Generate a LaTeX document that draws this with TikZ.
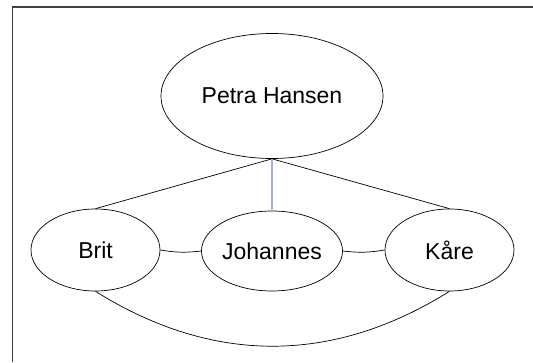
\documentclass[tikz,border=0pt]{standalone}
\usepackage{fontspec}
\setmainfont{Liberation Sans}
\usetikzlibrary{shapes.geometric}
\definecolor{linkblue}{RGB}{160,180,215}
\tikzset{
    person/.style={draw, ellipse, inner sep=0pt, line width=.7pt,
        font=\fontsize{23}{27}\selectfont},
    tie/.style={line width=.7pt}
}

\begin{document}
\begin{tikzpicture}[x=1pt, y=1pt]
    \useasboundingbox (0, 0) rectangle (533, 362);
    \draw[line width=1.5pt, black!75](12.5, 0)--(12.5, 355)--(533, 355);
    \node[person, minimum width=222pt, minimum height=125pt](petra) at (272, 266) {Petra Hansen};
    \node[person, minimum width=129pt, minimum height=82pt](brit) at (95.5, 112) {Brit};
    \node[person, minimum width=130pt, minimum height=80pt](johannes) at (272, 111) {Johannes};
    \node[person, minimum width=129pt, minimum height=82pt](kaare) at (449.5, 112) {Kåre};
    \draw[tie](petra.south)--(brit.north);
    \draw[tie](petra.south)--(kaare.north);
    \draw[tie, linkblue, line width=1.3pt](petra.south)--(johannes.north);
    \draw[tie](brit.east) to[bend right=8] (johannes.west);
    \draw[tie](johannes.east) to[bend right=8] (kaare.west);
    \draw[tie](brit.south) to[bend right=32] (kaare.south);
\end{tikzpicture}
\end{document}
